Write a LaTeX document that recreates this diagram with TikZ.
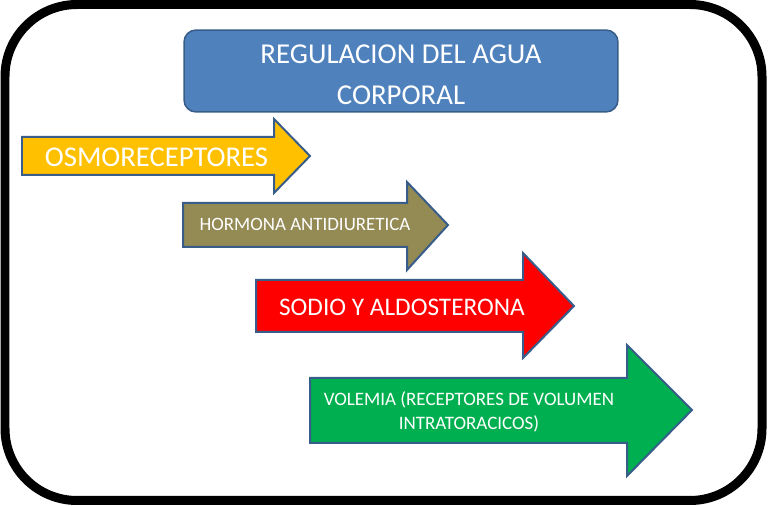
\documentclass[tikz,border=0pt]{standalone}
\usepackage{fontspec}
\setmainfont{Carlito}
\usepackage{tikz}
\usetikzlibrary{
  positioning,
  calc
}
\definecolor{titleblue}{RGB}{79,129,189}
\definecolor{edgeblue}{RGB}{56,93,138}
\definecolor{osmoyellow}{RGB}{255,192,0}
\definecolor{hormonaolive}{RGB}{148,138,84}
\definecolor{sodiored}{RGB}{255,0,0}
\definecolor{volemiagreen}{RGB}{0,176,80}

\begin{document}
\begin{tikzpicture}[x=0.02cm, y=-0.02cm,
    every node/.style={text=white, inner sep=0pt},
    arrowshape/.style={draw=edgeblue, line width=0.04cm, line join=miter}]
            \useasboundingbox (0,0) rectangle (768,506);

            % Frame
            \draw[line width=0.18cm, rounded corners=1.44cm] (5,4.5) rectangle (762,500.5);

            % Title
            \node[fill=titleblue, draw=edgeblue, line width=0.03cm, minimum width=8.68cm, minimum height=1.64cm, rounded corners=0.24cm] (titlebox) at (401,71) {};
            \node[align=center, font=\fontsize{16.4}{23.2}\selectfont] (titletext) at (401,74.5) {REGULACION DEL AGUA\\CORPORAL};

            % Arrows
            \draw[arrowshape, fill=osmoyellow] (22,137) -- (274,137) -- (274,119) -- (310,156) -- (274,193) -- (274,175) -- (22,175) -- cycle;
            \draw[arrowshape, fill=hormonaolive] (183,203) -- (407,203) -- (407,182) -- (448,225) -- (407,270) -- (407,247) -- (183,247) -- cycle;
            \draw[arrowshape, fill=sodiored] (256,280) -- (523,280) -- (523,253) -- (574,306) -- (523,358) -- (523,332) -- (256,332) -- cycle;
            \draw[arrowshape, fill=volemiagreen] (310,378) -- (627,378) -- (627,345) -- (692,410) -- (627,476) -- (627,443) -- (310,443) -- cycle;

            % Arrow texts
            \node[font=\fontsize{16.3}{19}\selectfont] (osmo) at (156.5,157) {OSMORECEPTORES};
            \node[font=\fontsize{10.75}{13}\selectfont] (hormona) at (305,224.5) {HORMONA ANTIDIURETICA};
            \node[font=\fontsize{14.4}{17}\selectfont] (sodio) at (402,307) {SODIO Y ALDOSTERONA};
            \node[align=center, font=\fontsize{10.8}{13.6}\selectfont] (volemia) at (469,411.5) {VOLEMIA (RECEPTORES DE VOLUMEN\\INTRATORACICOS)};
        \end{tikzpicture}
\end{document}
